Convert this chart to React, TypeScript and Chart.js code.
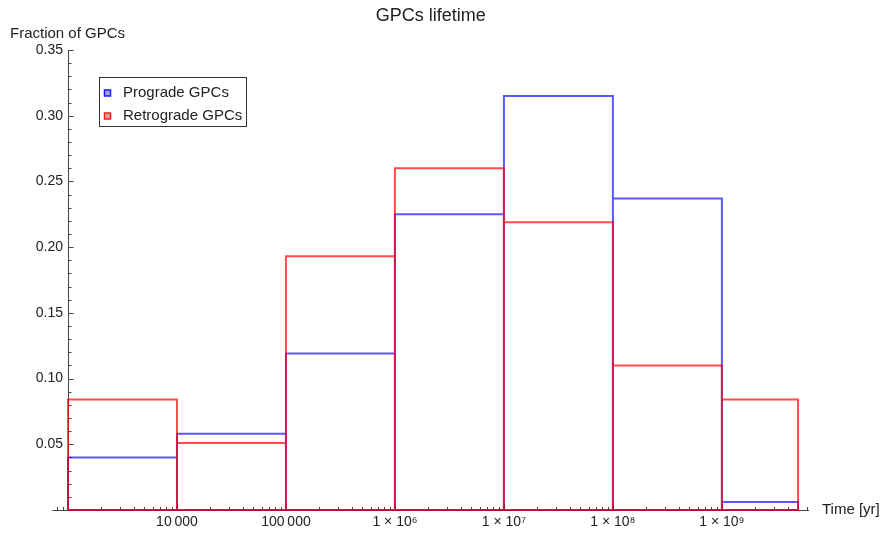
import React, { useEffect, useRef } from 'react';
import { Chart, registerables } from 'chart.js';

Chart.register(...registerables);

// ---------- data ----------
const binEdges = [1e3, 1e4, 1e5, 1e6, 1e7, 1e8, 1e9, 5e9];
const prograde = [0.040, 0.058, 0.119, 0.225, 0.315, 0.237, 0.006];
const retrograde = [0.084, 0.051, 0.193, 0.260, 0.219, 0.110, 0.084];
const seriesNames = ['Prograde GPCs', 'Retrograde GPCs'];

const xMajorValues = [1e4, 1e5, 1e6, 1e7, 1e8, 1e9];
const xMajorLabels = ['10\u2009000', '100\u2009000', '1 \u00d7 10\u2076', '1 \u00d7 10\u2077', '1 \u00d7 10\u2078', '1 \u00d7 10\u2079'];
const yMajorValues = [0.05, 0.10, 0.15, 0.20, 0.25, 0.30, 0.35];
const yMajorLabels = ['0.05', '0.10', '0.15', '0.20', '0.25', '0.30', '0.35'];

const chartTitle = 'GPCs lifetime';
const yTitle = 'Fraction of GPCs';
const xTitle = 'Time [yr]';

// ---------- style ----------
const FONT = '"Liberation Sans", Arial, sans-serif';
const BLUE = 'rgba(0,0,255,0.65)';
const RED = 'rgba(255,0,0,0.7)';
const X_AXIS_START = 720;
const X_MIN = 1000;
const X_MAX = 6.3e9;
const Y_MIN = 0;
const Y_MAX = 0.35;
const AXIS_COLOR = '#444';
const TEXT_COLOR = '#222';

function outline(values: number[]) {
  const pts: { x: number; y: number | null }[] = [];
  values.forEach((v, i) => {
    const a = binEdges[i];
    const b = binEdges[i + 1];
    pts.push({ x: a, y: 0 }, { x: a, y: v }, { x: b, y: v }, { x: b, y: 0 }, { x: a, y: 0 }, { x: a, y: null });
  });
  return pts;
}

function xAllTicks() {
  const out: { v: number; major: boolean }[] = [];
  for (let e = 2; e <= 9; e++) {
    for (let m = 1; m <= 9; m++) {
      const v = m * Math.pow(10, e);
      if (v >= X_AXIS_START && v <= X_MAX) out.push({ v, major: m === 1 });
    }
  }
  return out;
}

function yAllTicks() {
  const out: { v: number; major: boolean }[] = [];
  for (let i = 1; i <= 35; i++) out.push({ v: i / 100, major: i % 5 === 0 });
  return out;
}

const axesPlugin = {
  id: 'mmaAxes',
  beforeDatasetsDraw(chart: any) {
    const { ctx, scales } = chart;
    const xs = scales.x;
    const ys = scales.y;
    const y0 = Math.round(ys.getPixelForValue(0)) + 0.5;
    const x0 = Math.round(xs.getPixelForValue(X_MIN)) + 0.5;
    ctx.save();
    ctx.strokeStyle = AXIS_COLOR;
    ctx.lineWidth = 1;
    ctx.beginPath();
    ctx.moveTo(xs.getPixelForValue(X_AXIS_START), y0);
    ctx.lineTo(xs.getPixelForValue(X_MAX), y0);
    ctx.moveTo(x0, ys.getPixelForValue(Y_MAX));
    ctx.lineTo(x0, y0);
    xAllTicks().forEach((t) => {
      const px = Math.round(xs.getPixelForValue(t.v)) + 0.5;
      ctx.moveTo(px, y0);
      ctx.lineTo(px, y0 - (t.major ? 6 : 3.5));
    });
    yAllTicks().forEach((t) => {
      const py = Math.round(ys.getPixelForValue(t.v)) + 0.5;
      ctx.moveTo(x0, py);
      ctx.lineTo(x0 + (t.major ? 5 : 3), py);
    });
    ctx.stroke();
    ctx.restore();
  },
  afterDraw(chart: any) {
    const { ctx, chartArea, scales } = chart;
    const xs = scales.x;
    const ys = scales.y;
    ctx.save();
    ctx.fillStyle = TEXT_COLOR;
    ctx.textBaseline = 'middle';
    // title
    ctx.font = `18px ${FONT}`;
    ctx.textAlign = 'center';
    const left = xs.getPixelForValue(X_AXIS_START);
    ctx.fillText(chartTitle, (left + chartArea.right) / 2, 16);
    // y title
    ctx.font = `15px ${FONT}`;
    ctx.textAlign = 'left';
    ctx.fillText(yTitle, 10, 34);
    // x title
    ctx.fillText(xTitle, xs.getPixelForValue(X_MAX) + 13, ys.getPixelForValue(0));
    // legend
    ctx.fillStyle = '#fff';
    ctx.fillRect(99.5, 77.5, 147, 49);
    ctx.strokeStyle = '#333';
    ctx.lineWidth = 1;
    ctx.strokeRect(99.5, 77.5, 147, 49);
    const swatchFill = ['#a3a3d8', '#d8a3a3'];
    const swatchLine = ['rgb(30,30,255)', 'rgb(255,30,30)'];
    seriesNames.forEach((name, i) => {
      const cy = 93 + i * 23;
      ctx.fillStyle = swatchFill[i];
      ctx.fillRect(104.5, cy - 3, 6, 6);
      ctx.strokeStyle = swatchLine[i];
      ctx.lineWidth = 1.5;
      ctx.strokeRect(104.5, cy - 3, 6, 6);
      ctx.fillStyle = TEXT_COLOR;
      ctx.font = `15px ${FONT}`;
      ctx.textAlign = 'left';
      ctx.fillText(name, 123, cy);
    });
    ctx.restore();
  },
};

export default function App() {
  const ref = useRef<HTMLCanvasElement>(null);
  useEffect(() => {
    if (!ref.current) return;
    const chart = new Chart(ref.current, {
      type: 'scatter',
      data: {
        datasets: [
          {
            label: seriesNames[0],
            data: outline(prograde) as any,
            showLine: true,
            borderColor: BLUE,
            borderWidth: 2,
            pointRadius: 0,
            spanGaps: false,
            clip: false as any,
            order: 2,
            borderJoinStyle: 'miter',
          },
          {
            label: seriesNames[1],
            data: outline(retrograde) as any,
            showLine: true,
            borderColor: RED,
            borderWidth: 2,
            pointRadius: 0,
            spanGaps: false,
            clip: false as any,
            order: 1,
            borderJoinStyle: 'miter',
          },
        ],
      },
      options: {
        animation: false,
        responsive: false,
        maintainAspectRatio: false,
        layout: { padding: { left: 0, right: 73, top: 50, bottom: 26 } },
        plugins: { legend: { display: false }, tooltip: { enabled: false }, title: { display: false } },
        scales: {
          x: {
            type: 'logarithmic',
            position: { y: 0 } as any,
            min: X_MIN,
            max: X_MAX,
            grid: { display: false, drawTicks: false },
            border: { display: false },
            afterBuildTicks: (s: any) => {
              s.ticks = xMajorValues.map((v) => ({ value: v }));
            },
            ticks: {
              autoSkip: false,
              maxRotation: 0,
              minRotation: 0,
              padding: 4,
              color: TEXT_COLOR,
              font: { family: FONT, size: 14 },
              callback: (_v: any, i: number) => xMajorLabels[i],
            },
          },
          y: {
            type: 'linear',
            position: 'left',
            min: Y_MIN,
            max: Y_MAX,
            grid: { display: false, drawTicks: false },
            border: { display: false },
            afterFit: (s: any) => {
              s.width = 68;
            },
            afterBuildTicks: (s: any) => {
              s.ticks = yMajorValues.map((v) => ({ value: v }));
            },
            ticks: {
              autoSkip: false,
              padding: 5,
              color: TEXT_COLOR,
              font: { family: FONT, size: 14 },
              callback: (_v: any, i: number) => yMajorLabels[i],
            },
          },
        },
      },
      plugins: [axesPlugin],
    });
    return () => chart.destroy();
  }, []);
  return (
    <div style={{ position: 'fixed', left: 0, top: 0, width: 882, height: 536 }}>
      <canvas ref={ref} width={882} height={536} style={{ width: 882, height: 536 }} />
    </div>
  );
}
